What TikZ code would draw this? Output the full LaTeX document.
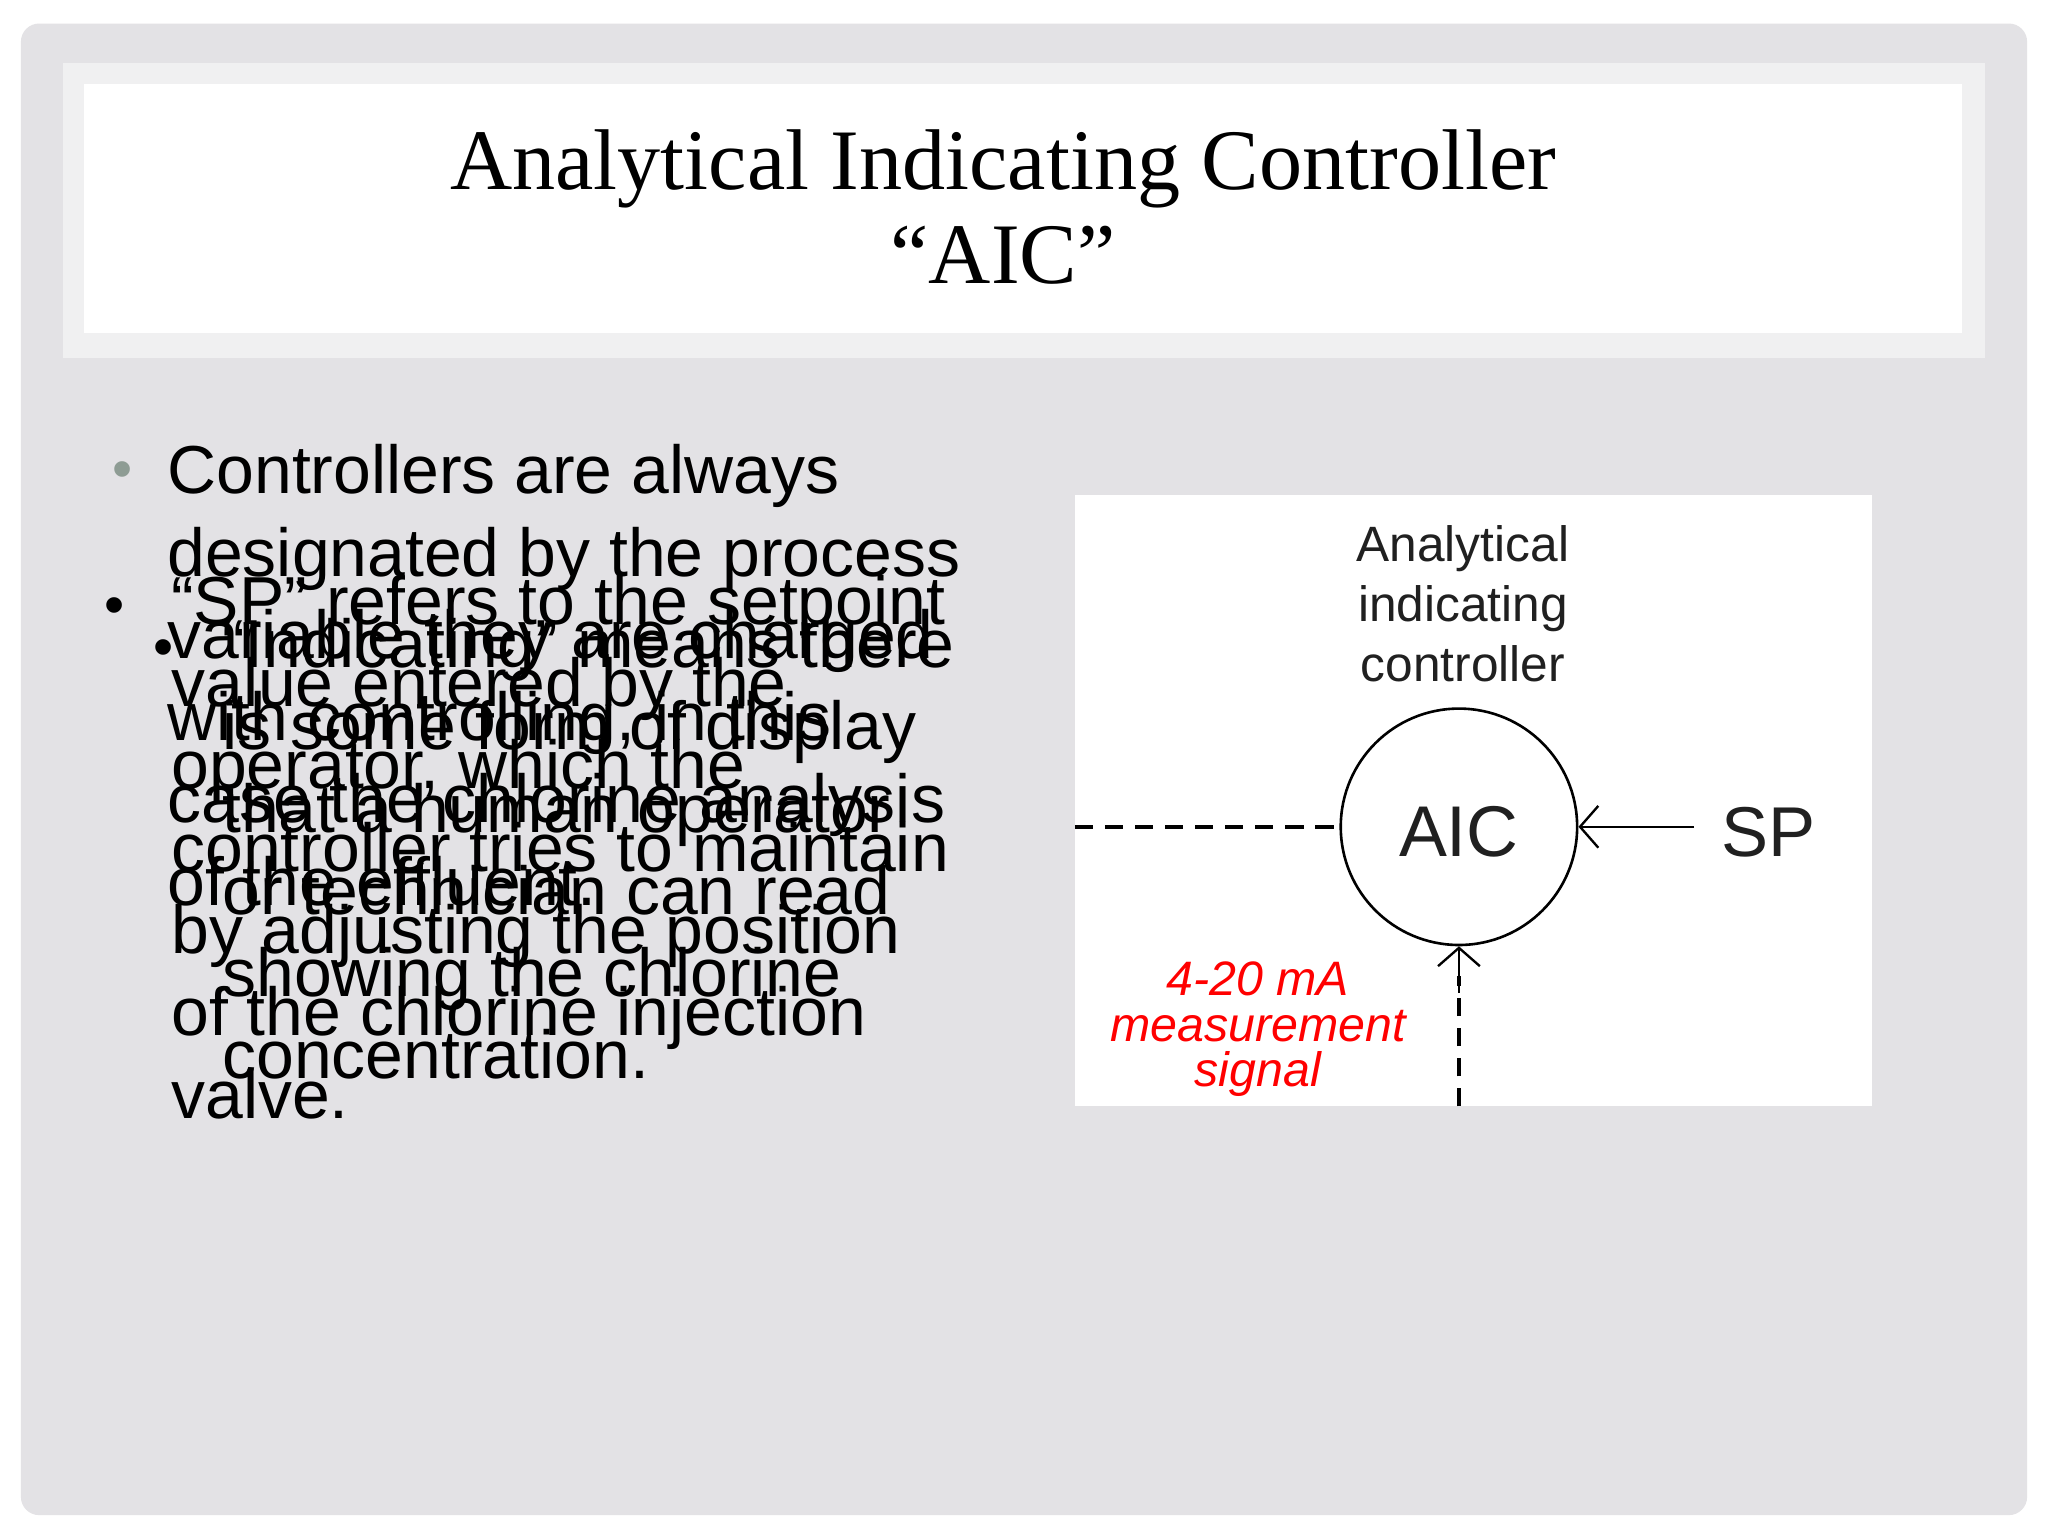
\documentclass[tikz,border=0pt]{standalone}
\usepackage{fontspec}
\setmainfont{Liberation Serif}
\newfontfamily\arial{Liberation Sans}
\usetikzlibrary{arrows.meta}
\definecolor{slidebg}{HTML}{E3E2E5}
\definecolor{band}{HTML}{F0F0F1}
\definecolor{bulgray}{HTML}{8E9C94}
\definecolor{diagtxt}{HTML}{202020}
\tikzset{
  body/.style={anchor=base west,inner sep=0pt,font=\arial\fontsize{52}{63}\selectfont,align=left},
  bul/.style={anchor=base west,inner sep=0pt,font=\arial\fontsize{44}{50}\selectfont},
  dtext/.style={inner sep=0pt,font=\arial\fontsize{38}{46}\selectfont,text=diagtxt,align=center},
  sig/.style={inner sep=0pt,font=\arial\itshape\fontsize{37}{35}\selectfont,text=red,align=center},
  ttl/.style={inner sep=0pt,font=\fontsize{66}{72}\selectfont,align=center}
}
\begin{document}
\begin{tikzpicture}[x=1pt,y=-1pt]
\useasboundingbox (0,0) rectangle (1568,1176);
\fill[white] (0,0) rectangle (1568,1176);
\fill[slidebg,rounded corners=14pt] (16,18) rectangle (1552,1160);
\fill[band] (48,48) rectangle (1520,274);
\fill[white] (64,64) rectangle (1502,255);
\node[ttl,anchor=base] (title) at (768,217) {Analytical Indicating Controller\\“AIC”};
% paragraph 1
\node[bul,text=bulgray] (b1) at (86,374) {•};
\node[body] (p1) at (128,693) {Controllers are always\\designated by the process\\variable they are charged\\with controlling, in this\\case the chlorine analysis\\of the effluent.};
% paragraph 2
\node[bul] (b2) at (80,478) {•};
\node[body] (p2) at (131,856) {“SP” refers to the setpoint\\value entered by the\\operator, which the\\controller tries to maintain\\by adjusting the position\\of the chlorine injection\\valve.};
% paragraph 3
\node[bul] (b3) at (117,510) {•};
\node[body] (p3) at (170,826) {“Indicating” means there\\is some form of display\\that a human operator\\or technician can read\\showing the chlorine\\concentration.};
% diagram
\fill[white] (823,379) rectangle (1433,847);
\node[dtext] (lbl) at (1120,462) {Analytical\\indicating\\controller};
\node[draw,circle,line width=2pt,minimum size=181pt,inner sep=0pt] (aic) at (1117,633) {};
\node[inner sep=0pt,font=\arial\fontsize{55}{60}\selectfont,text=diagtxt] (aict) at (1117,637) {AIC};
\node[inner sep=0pt,font=\arial\fontsize{54}{60}\selectfont,text=diagtxt] (sp) at (1354,637) {SP};
\coordinate (leftend) at (823,633);
\coordinate (botend) at (1117,847);
\draw[line width=1.8pt,-{Straight Barb[length=14pt,width=32pt,line width=1.8pt]}] (1297,633) -- (aic.east);
\draw[line width=3pt,dash pattern=on 14pt off 9pt] (leftend) -- (aic.west);
\draw[line width=3pt,dash pattern=on 14pt off 9pt] (botend) -- ++(0,-100);
\draw[line width=1.8pt,-{Straight Barb[length=14pt,width=32pt,line width=1.8pt]}] (1117,760) -- (aic.south);
\node[sig] (sg) at (963,788) {4-20 mA\\measurement\\signal};
\end{tikzpicture}
\end{document}
